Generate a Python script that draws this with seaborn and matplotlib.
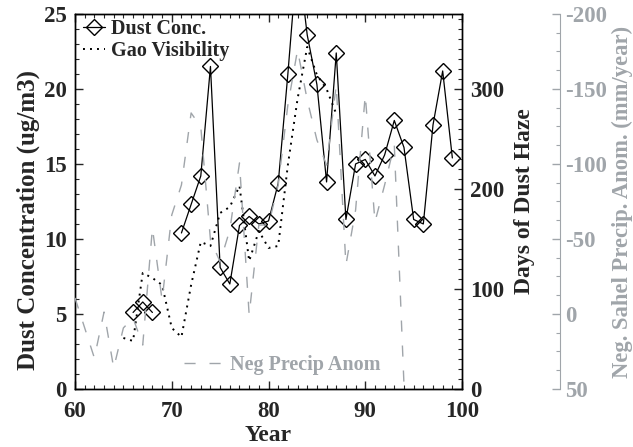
import numpy as np
import pandas as pd
import seaborn as sns
import matplotlib.pyplot as plt
from matplotlib.lines import Line2D
from matplotlib.ticker import MultipleLocator

# Dust concentration (ug/m3), gap 1969-70
conc_years = [66, 67, 68, 71, 72, 73, 74, 75, 76, 77, 78, 79, 80, 81, 82, 83,
              84, 85, 86, 87, 88, 89, 90, 91, 92, 93, 94, 95, 96, 97, 98, 99]
conc_vals = [5.1, 5.8, 5.1, 10.4, 12.3, 14.2, 21.5, 8.1, 7.0, 10.9, 11.5, 11.0,
             11.2, 13.7, 21.0, 29.0, 23.6, 20.3, 13.8, 22.4, 11.3, 15.0, 15.3,
             14.2, 15.6, 17.9, 16.1, 11.3, 11.0, 17.6, 21.2, 15.4]
conc_seg = [0, 0, 0] + [1] * 29

# Gao visibility (days of dust haze)
gao_years = list(range(65, 88))
gao_days = [51, 48, 116, 111, 104, 61, 52, 104, 147, 143, 176, 182, 203, 128,
            158, 141, 143, 224, 290, 342, 314, 300, 275]

# negative Sahel precipitation anomaly (mm/year)
precip_years = list(range(60, 95))
neg_precip = [-10.7, 9.3, 29.3, -1.3, 36.0, 9.3, 2.7, 20.7, -57.3, -9.3, -66.0,
              -86.0, -134.0, -124.7, -49.3, -34.7, -56.0, -100.7, 0.7, -59.3,
              -59.3, -86.0, -139.3, -176.0, -142.7, -116.0, -99.3, -152.7, -32.7,
              -69.3, -146.0, -61.3, -86.0, -112.7, 47.0]

grey = '#a0a5aa'
tick_fs = 16.5
lab_fs = 17
leg_fs = 14.5

sns.set_style('ticks')
plt.rcParams['font.family'] = ['Liberation Serif', 'DejaVu Serif']
plt.rcParams['font.weight'] = 'bold'
plt.rcParams['axes.labelweight'] = 'bold'
plt.rcParams['axes.unicode_minus'] = False

df_conc = pd.DataFrame({'year': conc_years, 'conc': conc_vals, 'seg': conc_seg})
df_gao = pd.DataFrame({'year': gao_years, 'days': gao_days})
df_precip = pd.DataFrame({'year': precip_years, 'neg': neg_precip})

fig = plt.figure(figsize=(6.33, 4.47), dpi=100)
ax = fig.add_axes([0.1185, 0.1298, 0.6114, 0.839])
ax2 = ax.twinx()
ax3 = ax.twinx()

# precipitation anomaly, grey dashed
sns.lineplot(data=df_precip, x='year', y='neg', ax=ax3, color=grey, lw=1.0,
             linestyle=(0, (8, 10)))
# Gao visibility, dotted
sns.lineplot(data=df_gao, x='year', y='days', ax=ax2, color='black', lw=1.4,
             linestyle=(0, (1, 2.6)))
# dust concentration
sns.lineplot(data=df_conc, x='year', y='conc', units='seg', estimator=None, ax=ax,
             color='black', lw=0.9, marker='D', markersize=8,
             markerfacecolor='none', markeredgecolor='black', markeredgewidth=1.0)

ax.set_xlim(60, 100)
ax.set_ylim(0, 25)
ax2.set_ylim(0, 375)
ax3.set_ylim(50, -200)

ax.set_xlabel('Year', fontsize=lab_fs, fontweight='bold', labelpad=2)
ax.set_ylabel('Dust Concentration (ug/m3)', fontsize=18, fontweight='bold')
ax.yaxis.set_label_coords(-0.09, 0.45)
ax2.set_ylabel('Days of Dust Haze', fontsize=lab_fs, fontweight='bold', labelpad=7)
ax3.set_ylabel('Neg. Sahel Precip. Anom. (mm/year)', fontsize=16.3,
               fontweight='bold', color=grey, labelpad=3)
ax2.set_xlabel('')
ax3.set_xlabel('')

ax.xaxis.set_major_locator(MultipleLocator(10))
ax.xaxis.set_minor_locator(MultipleLocator(1))
ax.yaxis.set_major_locator(MultipleLocator(5))
ax.yaxis.set_minor_locator(MultipleLocator(1))
ax.tick_params(axis='y', which='major', direction='in', length=6, width=1,
               labelsize=tick_fs, right=False, pad=6)
ax.tick_params(axis='x', which='major', direction='in', length=6, width=1,
               labelsize=tick_fs, top=True, pad=9)
ax.tick_params(axis='both', which='minor', direction='in', length=3, width=0.8,
               top=True, right=False)

ax2.yaxis.set_major_locator(MultipleLocator(100))
ax2.yaxis.set_minor_locator(MultipleLocator(10))
ax2.tick_params(axis='y', which='major', direction='in', length=6, width=1,
                labelsize=tick_fs, pad=6)
ax2.tick_params(axis='y', which='minor', direction='in', length=3, width=0.8)

ax3.spines['right'].set_position(('axes', 1.253))
for s in ['left', 'top', 'bottom']:
    ax3.spines[s].set_visible(False)
ax3.spines['right'].set_color(grey)
ax3.yaxis.set_major_locator(MultipleLocator(50))
ax3.yaxis.set_minor_locator(MultipleLocator(12.5))
ax3.tick_params(axis='y', which='major', direction='in', length=6, width=1,
                labelsize=tick_fs, colors=grey, pad=4)
ax3.tick_params(axis='y', which='minor', direction='in', length=3, width=0.8,
                colors=grey)

for a in [ax, ax2]:
    for s in a.spines.values():
        s.set_color('black')
        s.set_linewidth(1)

for lab in ax.get_xticklabels() + ax.get_yticklabels() + ax2.get_yticklabels():
    lab.set_fontweight('bold')
for lab in ax3.get_yticklabels():
    lab.set_fontweight('bold')

# legends
h1 = [Line2D([], [], color='black', lw=0.9, marker='D', markersize=8,
             markerfacecolor='none', markeredgecolor='black'),
      Line2D([], [], color='black', lw=1.4, linestyle=(0, (1, 2.6)))]
leg = ax3.legend(h1, ['Dust Conc.', 'Gao Visibility'], loc='upper left',
                 bbox_to_anchor=(0.01, 0.997), frameon=False, handlelength=1.1,
                 handletextpad=0.3, labelspacing=0.1, borderpad=0.2,
                 borderaxespad=0, prop={'weight': 'bold', 'size': leg_fs})
ax3.add_artist(leg)
h2 = [Line2D([], [], color=grey, lw=1.0, linestyle=(0, (8, 10)))]
leg2 = ax3.legend(h2, ['Neg Precip Anom'], loc='lower left',
                  bbox_to_anchor=(0.246, 0.0), frameon=False, handlelength=1.8,
                  handletextpad=0.45, borderaxespad=0.3,
                  prop={'weight': 'bold', 'size': leg_fs}, labelcolor=grey)

fig.savefig('out.png', dpi=100)
